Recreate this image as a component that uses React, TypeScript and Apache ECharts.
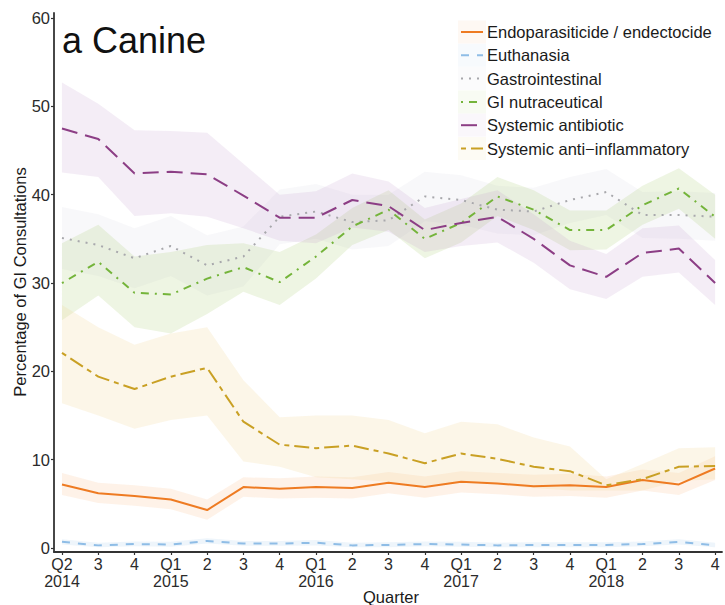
import React, { useEffect, useRef } from "react";
import * as echarts from "echarts";

const quarterLabels = ["Q2\n2014", "3", "4", "Q1\n2015", "2", "3", "4", "Q1\n2016", "2", "3", "4", "Q1\n2017", "2", "3", "4", "Q1\n2018", "2", "3", "4"];
const quarterPositions = [0, 1, 2, 3, 4, 5, 6, 7, 8, 9, 10, 11, 12, 13, 14, 15, 16, 17, 18];
const yTicks = [0, 10, 20, 30, 40, 50, 60];

const endoValues = [7.2, 6.2, 5.9, 5.5, 4.3, 6.9, 6.7, 6.9, 6.8, 7.4, 6.9, 7.5, 7.3, 7.0, 7.1, 6.9, 7.7, 7.2, 9.0];
const endoUpper = [8.5, 7.4, 7.1, 6.7, 5.5, 8.0, 7.9, 8.1, 8.0, 8.6, 8.1, 8.7, 8.5, 8.3, 8.4, 8.1, 8.9, 8.5, 10.4];
const endoLower = [6.0, 5.1, 4.8, 4.4, 3.2, 5.8, 5.6, 5.7, 5.6, 6.2, 5.7, 6.3, 6.1, 5.8, 5.9, 5.7, 6.5, 6.0, 7.7];

const euthValues = [0.7, 0.3, 0.45, 0.4, 0.8, 0.5, 0.5, 0.6, 0.3, 0.35, 0.45, 0.4, 0.3, 0.35, 0.35, 0.35, 0.45, 0.7, 0.3];
const euthUpper = [1.0, 0.6, 0.75, 0.7, 1.1, 0.8, 0.8, 0.9, 0.6, 0.65, 0.75, 0.7, 0.6, 0.65, 0.65, 0.65, 0.75, 1.0, 0.6];
const euthLower = [0.4, 0.1, 0.2, 0.15, 0.5, 0.25, 0.25, 0.3, 0.1, 0.1, 0.2, 0.15, 0.1, 0.1, 0.1, 0.1, 0.2, 0.4, 0.1];

const gastroValues = [35.1, 34.3, 32.8, 34.2, 32.0, 33.0, 37.5, 38.1, 36.9, 37.1, 39.8, 39.4, 38.3, 38.1, 39.4, 40.3, 37.7, 37.7, 37.5];
const gastroUpper = [38.6, 37.8, 36.2, 37.6, 35.4, 36.4, 40.6, 41.2, 40.0, 40.0, 42.6, 42.2, 41.0, 40.8, 42.0, 42.9, 40.3, 40.4, 40.2];
const gastroLower = [31.6, 30.8, 29.4, 30.8, 28.6, 29.6, 34.4, 35.0, 33.8, 34.2, 37.0, 36.6, 35.6, 35.4, 36.8, 37.7, 35.1, 35.0, 34.8];

const nutraValues = [30.0, 32.4, 28.9, 28.7, 30.5, 31.8, 30.1, 33.0, 36.4, 38.3, 35.0, 36.8, 39.8, 38.3, 36.0, 36.0, 38.8, 40.7, 37.5];
const nutraUpper = [34.5, 36.6, 33.0, 33.5, 34.3, 34.5, 33.5, 35.5, 38.5, 40.5, 37.2, 39.0, 42.0, 40.5, 38.2, 38.2, 41.0, 43.0, 40.0];
const nutraLower = [25.8, 28.6, 25.0, 24.3, 26.5, 29.0, 27.5, 30.5, 34.3, 36.0, 32.8, 34.6, 37.6, 36.0, 33.7, 33.8, 36.6, 38.4, 35.0];

const antibioticValues = [47.5, 46.3, 42.4, 42.6, 42.3, 39.9, 37.4, 37.4, 39.4, 38.7, 36.0, 36.8, 37.5, 35.0, 32.0, 30.7, 33.4, 33.9, 30.0];
const antibioticUpper = [52.7, 50.3, 47.3, 47.2, 47.0, 43.5, 40.0, 40.4, 42.4, 41.5, 38.5, 39.5, 40.5, 37.8, 34.8, 33.3, 36.2, 36.5, 32.6];
const antibioticLower = [42.5, 42.0, 37.6, 37.9, 37.5, 36.2, 34.8, 34.5, 36.3, 35.8, 33.5, 34.2, 34.6, 32.3, 29.3, 28.2, 30.7, 31.2, 27.5];

const antiInflamValues = [22.1, 19.4, 18.0, 19.4, 20.4, 14.3, 11.7, 11.3, 11.6, 10.7, 9.6, 10.7, 10.1, 9.2, 8.7, 7.1, 7.8, 9.2, 9.3];
const antiInflamUpper = [27.5, 25.0, 23.0, 24.3, 25.0, 19.0, 14.8, 15.0, 15.0, 14.5, 13.0, 14.3, 14.0, 12.5, 11.5, 7.8, 9.5, 11.3, 11.4];
const antiInflamLower = [16.4, 15.0, 13.5, 14.5, 15.0, 9.8, 9.2, 8.0, 7.8, 7.5, 7.0, 7.5, 7.2, 6.8, 6.5, 6.5, 6.5, 7.6, 7.8];

const seriesNames = [
  "Endoparasiticide / endectocide",
  "Euthanasia",
  "Gastrointestinal",
  "GI nutraceutical",
  "Systemic antibiotic",
  "Systemic anti\u2212inflammatory",
];

const FONT = "Liberation Sans, Arial, Helvetica, sans-serif";
const FS = 16.5;

const defs = [
  { name: seriesNames[0], values: endoValues, upper: endoUpper, lower: endoLower, color: "#EE7B22", band: "rgba(245,160,90,0.14)", keyBand: "rgba(245,160,90,0.07)", dash: "solid" as any },
  { name: seriesNames[1], values: euthValues, upper: euthUpper, lower: euthLower, color: "#8FBDE6", band: "rgba(143,189,230,0.15)", keyBand: "rgba(143,189,230,0.07)", dash: [8, 8] },
  { name: seriesNames[2], values: gastroValues, upper: gastroUpper, lower: gastroLower, color: "#A8A8AC", band: "rgba(200,200,215,0.12)", keyBand: "rgba(200,200,215,0.07)", dash: [2, 6] },
  { name: seriesNames[3], values: nutraValues, upper: nutraUpper, lower: nutraLower, color: "#74B43A", band: "rgba(160,200,100,0.18)", keyBand: "rgba(160,200,100,0.08)", dash: [2, 6, 8, 6] },
  { name: seriesNames[4], values: antibioticValues, upper: antibioticUpper, lower: antibioticLower, color: "#8C3E85", band: "rgba(190,150,200,0.17)", keyBand: "rgba(190,150,200,0.08)", dash: [16, 8] },
  { name: seriesNames[5], values: antiInflamValues, upper: antiInflamUpper, lower: antiInflamLower, color: "#C9A024", band: "rgba(240,215,150,0.22)", keyBand: "rgba(240,215,150,0.1)", dash: [5, 5, 15, 5] },
];

export default function App() {
  const ref = useRef<HTMLDivElement>(null);
  useEffect(() => {
    document.body.style.margin = "0";
    const chart = echarts.init(ref.current!, null, { renderer: "svg" });

    const bandSeries = defs.map((d) => ({
      type: "custom",
      name: d.name + " band",
      silent: true,
      z: 1,
      data: d.upper.map((u, i) => [i, u, d.lower[i]]),
      encode: { x: 0, y: [1, 2] },
      renderItem: (params: any, api: any) => {
        if (params.dataIndex !== 0) return null;
        const pts: number[][] = [];
        for (let i = 0; i < d.upper.length; i++) pts.push(api.coord([i, d.upper[i]]));
        for (let i = d.lower.length - 1; i >= 0; i--) pts.push(api.coord([i, d.lower[i]]));
        return { type: "polygon", shape: { points: pts }, style: { fill: d.band } };
      },
    }));

    const lineSeries = defs.map((d) => ({
      type: "line",
      name: d.name,
      data: d.values.map((v, i) => [i, v]),
      symbol: "none",
      z: 3,
      lineStyle: { color: d.color, width: 2, type: d.dash },
    }));

    const legendTop = 32;
    const legendStep = 23.3;
    const legendGraphics: any[] = [];
    defs.forEach((d, i) => {
      const y = legendTop + i * legendStep;
      legendGraphics.push({
        type: "rect",
        shape: { x: 458, y: y - 11.5, width: 28, height: 23 },
        style: { fill: d.keyBand },
        silent: true,
      });
      legendGraphics.push({
        type: "line",
        shape: { x1: 461, y1: y, x2: 483, y2: y },
        style: { stroke: d.color, lineWidth: 2, lineDash: d.dash === "solid" ? null : d.dash },
        silent: true,
      });
      legendGraphics.push({
        type: "text",
        x: 487,
        y: y,
        style: { text: d.name, font: `${FS}px ${FONT}`, fill: "#1a1a1a", textAlign: "left", textVerticalAlign: "middle" },
        silent: true,
      });
    });

    chart.setOption({
      animation: false,
      backgroundColor: "#ffffff",
      grid: { left: 54, right: 3, top: 13, bottom: 53, containLabel: false, outerBoundsMode: "none" },
      xAxis: {
        type: "value",
        min: -0.22,
        max: 18.19,
        splitLine: { show: false },
        axisLine: { show: true, onZero: false, lineStyle: { color: "#333", width: 1.8 } },
        axisTick: { show: true, length: 3, customValues: quarterPositions, lineStyle: { color: "#333", width: 1.2 } },
        axisLabel: {
          customValues: quarterPositions,
          formatter: (v: number) => quarterLabels[Math.round(v)] ?? "",
          color: "#2b2b2b",
          fontSize: 16,
          lineHeight: 17,
          fontFamily: FONT,
          margin: 4,
        },
      },
      yAxis: {
        type: "value",
        min: -0.45,
        max: 60.57,
        splitLine: { show: false },
        axisLine: { show: true, onZero: false, lineStyle: { color: "#333", width: 1.8 } },
        axisTick: { show: true, length: 3, customValues: yTicks, lineStyle: { color: "#333", width: 1.2 } },
        axisLabel: {
          customValues: yTicks,
          formatter: (v: number) => String(Math.round(v)),
          color: "#2b2b2b",
          fontSize: FS,
          fontFamily: FONT,
          margin: 4,
        },
      },
      graphic: [
        {
          type: "text",
          x: 62,
          y: 40,
          style: { text: "a Canine", font: `36px ${FONT}`, fill: "#111", textAlign: "left", textVerticalAlign: "middle" },
          silent: true,
        },
        {
          type: "text",
          x: 20,
          y: 282,
          rotation: Math.PI / 2,
          style: { text: "Percentage of GI Consultations", font: `${FS}px ${FONT}`, fill: "#1a1a1a", textAlign: "center", textVerticalAlign: "middle" },
          silent: true,
        },
        {
          type: "text",
          x: 391,
          y: 597,
          style: { text: "Quarter", font: `${FS}px ${FONT}`, fill: "#1a1a1a", textAlign: "center", textVerticalAlign: "middle" },
          silent: true,
        },
        ...legendGraphics,
      ],
      series: [...bandSeries, ...lineSeries],
    });
    return () => chart.dispose();
  }, []);
  return <div ref={ref} style={{ width: 725, height: 605 }} />;
}
